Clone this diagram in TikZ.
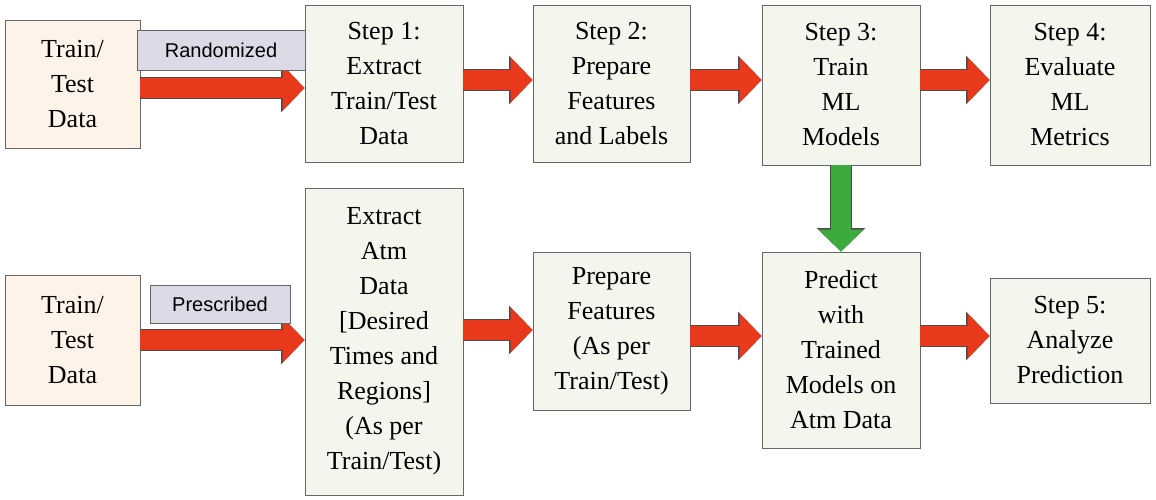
\documentclass[tikz,border=0pt]{standalone}
\usepackage{fontspec}
\setmainfont{Liberation Serif}
\newfontfamily\labelfont{Liberation Sans}
\usetikzlibrary{arrows.meta}
\definecolor{boxfill}{HTML}{F3F6EC}
\definecolor{peach}{HTML}{FDF3E8}
\definecolor{lav}{HTML}{DCDAE6}
\definecolor{redA}{HTML}{E8391D}
\definecolor{greenA}{HTML}{3DAA3D}
\begin{document}
\begin{tikzpicture}[x=1pt,y=-1pt,
  stepbox/.style={draw=gray!80!black,fill=boxfill,line width=0.8pt,align=center,inner sep=0pt,font=\fontsize{26}{35}\selectfont},
  srcbox/.style={stepbox,fill=peach},
  tagbox/.style={draw=gray!80!black,fill=lav,line width=0.8pt,inner sep=0pt,font=\labelfont\fontsize{20}{24}\selectfont},
  bigarrow/.style={line width=20pt,draw=redA,-{Triangle[length=22pt,width=44pt]},
    preaction={draw=black!70,line width=22pt,-{Triangle[length=23.5pt,width=47pt]}}},
  greenarrow/.style={bigarrow,draw=greenA}]
\useasboundingbox (0,0) rectangle (1156,500);
\node[srcbox,minimum width=135,minimum height=128] (t1) at (72.5,84) {Train/\\Test\\Data};
\node[stepbox,minimum width=158,minimum height=157] (s1) at (384,83.5) {Step 1:\\Extract\\Train/Test\\Data};
\node[stepbox,minimum width=157,minimum height=157] (s2) at (611.5,83.5) {Step 2:\\Prepare\\Features\\and Labels};
\node[stepbox,minimum width=158,minimum height=160] (s3) at (841,85) {Step 3:\\Train\\ML\\Models};
\node[stepbox,minimum width=160,minimum height=160] (s4) at (1070,85) {Step 4:\\Evaluate\\ML\\Metrics};
\node[srcbox,minimum width=135,minimum height=130] (t2) at (72.5,340) {Train/\\Test\\Data};
\node[stepbox,minimum width=158,minimum height=307] (e) at (384,341.5) {Extract\\Atm\\Data\\{[Desired}\\Times and\\Regions]\\(As per\\Train/Test)};
\node[stepbox,minimum width=157,minimum height=158] (p) at (611.5,331) {Prepare\\Features\\(As per\\Train/Test)};
\node[stepbox,minimum width=158,minimum height=196] (pr) at (841,350) {Predict\\with\\Trained\\Models on\\Atm Data};
\node[stepbox,minimum width=160,minimum height=125] (s5) at (1070,340.5) {Step 5:\\Analyze\\Prediction};
\draw[bigarrow] (t1.east |- 0,88) coordinate (a1) -- (s1.west |- a1);
\node[tagbox,minimum width=168,minimum height=40] (r) at (221,50) {Randomized};
\draw[bigarrow] (s1.east |- 0,80) coordinate (a2) -- (s2.west |- a2);
\draw[bigarrow] (s2.east |- 0,80) coordinate (a3) -- (s3.west |- a3);
\draw[bigarrow] (s3.east |- 0,80) coordinate (a4) -- (s4.west |- a4);
\draw[greenarrow] (s3.south) -- (pr.north);
\draw[bigarrow] (t2.east |- 0,340) coordinate (b1) -- (e.west |- b1);
\node[tagbox,minimum width=140,minimum height=38] (pz) at (220,304) {Prescribed};
\draw[bigarrow] (e.east |- 0,330) coordinate (b2) -- (p.west |- b2);
\draw[bigarrow] (p.east |- 0,336) coordinate (b3) -- (pr.west |- b3);
\draw[bigarrow] (pr.east |- 0,336) coordinate (b4) -- (s5.west |- b4);
\end{tikzpicture}
\end{document}
